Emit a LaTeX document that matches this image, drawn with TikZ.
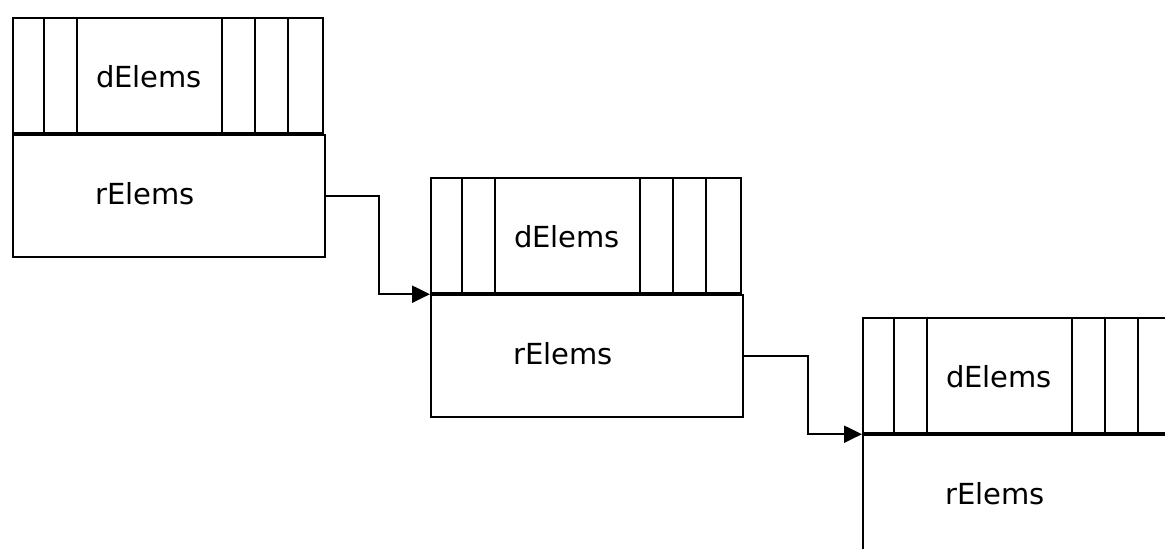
\documentclass[tikz,border=0pt]{standalone}
\usepackage{fontspec}
\setmainfont{DejaVu Sans}
\usetikzlibrary{arrows.meta,calc}

\tikzset{
  part/.style={draw, line width=2.2pt, inner sep=0pt, anchor=north west, rectangle},
  dpart/.style={part, minimum width=310pt, minimum height=115pt},
  rpart/.style={part, minimum width=312pt, minimum height=122pt},
  divider/.style={line width=2.2pt},
  label/.style={anchor=base, inner sep=0pt, font=\fontsize{29pt}{32pt}\selectfont},
  link/.style={line width=2.2pt, -{Triangle[length=18pt,width=17pt]}}
}

% one list element: a row of slots holding dElems above an rElems box
\newcommand{\elemblock}[3]{%
  \node[dpart] (d#1) at (#2,#3) {};
  \node[rpart] (r#1) at (d#1.south west) {};
  \foreach \dx in {32,65,210,243,276}
    \draw[divider] ($(d#1.north west)+(\dx,0)$) -- ($(d#1.south west)+(\dx,0)$);
  \node[label] (dl#1) at ($(d#1.north west)+(137,70)$) {dElems};
  \node[label] (rl#1) at ($(r#1.north west)+(133,70)$) {rElems};
}

\begin{document}
\begin{tikzpicture}[x=1pt,y=-1pt]
  \useasboundingbox (0,0) rectangle (1165,549);
  \clip (0,0) rectangle (1165,549);

  \elemblock{1}{12}{17}
  \elemblock{2}{430}{177}
  \elemblock{3}{862}{317}

  % links from each rElems box to the next element
  \draw[link] (r1.east) -- ++(53,0) |- (r2.north west);
  \draw[link] (r2.east) -- ++(64,0) |- (r3.north west);
\end{tikzpicture}
\end{document}
